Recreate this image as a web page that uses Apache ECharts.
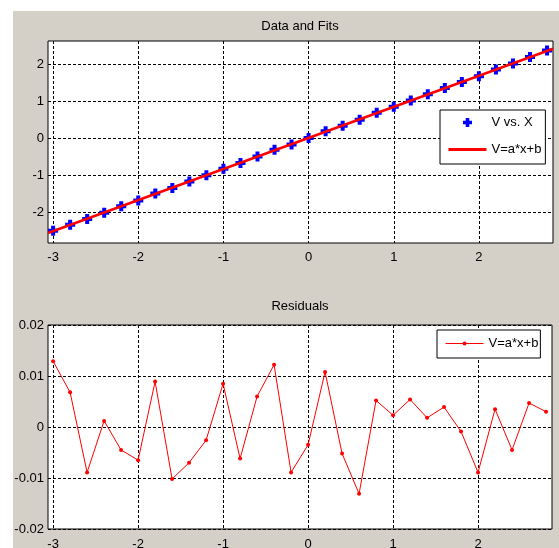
<!DOCTYPE html>
<html>
<head>
<meta charset="utf-8">
<script src="https://cdn.jsdelivr.net/npm/echarts@6/dist/echarts.min.js"></script>
<style>
html,body{margin:0;padding:0;background:#fff;}
#main{width:559px;height:548px;}
</style>
</head>
<body>
<div id="main"></div>
<script>
// x samples
var xVals = [-3, -2.8, -2.6, -2.4, -2.2, -2, -1.8, -1.6, -1.4, -1.2, -1, -0.8, -0.6, -0.4, -0.2,
	0, 0.2, 0.4, 0.6, 0.8, 1, 1.2, 1.4, 1.6, 1.8, 2, 2.2, 2.4, 2.6, 2.8];
// measured V
var vVals = [-2.51, -2.35, -2.19, -2.02, -1.85, -1.69, -1.50, -1.35, -1.18, -1.01, -0.83, -0.68, -0.50, -0.32, -0.18,
	0.00, 0.18, 0.33, 0.49, 0.68, 0.84, 1.01, 1.18, 1.35, 1.51, 1.67, 1.85, 2.01, 2.19, 2.36];
// fitted line end points (drawn across the axis range)
var fitX = [-3.06, 2.87];
var fitV = [-2.57, 2.41];
// residuals
var resVals = [0.0129, 0.0068, -0.0089, 0.0012, -0.0045, -0.0065, 0.0089, -0.0102, -0.0070, -0.0026, 0.0085, -0.0062, 0.0060, 0.0122, -0.0089,
	-0.0035, 0.0108, -0.0052, -0.0131, 0.0052, 0.0023, 0.0054, 0.0018, 0.0039, -0.0009, -0.0089, 0.0035, -0.0045, 0.0047, 0.0030];
var xTicks = [-3, -2, -1, 0, 1, 2];
var vTicks = [-2, -1, 0, 1, 2];
var resTicks = [-0.02, -0.01, 0, 0.01, 0.02];

var font = 'Liberation Sans, Arial, sans-serif';

function pairs(xs, ys) {
	var out = [];
	for (var i = 0; i < xs.length; i++) {
		out.push([xs[i], ys[i]]);
	}
	return out;
}

function xAxisOpt(idx, margin) {
	return {
		type: 'value', gridIndex: idx, min: -3.06, max: 2.87,
		axisLine: {show: false},
		axisTick: {show: false, customValues: xTicks},
		axisLabel: {customValues: xTicks, margin: margin, color: '#000', fontSize: 13, fontFamily: font},
		splitLine: {show: true, lineStyle: {color: '#000', width: 1, type: [3, 2]}}
	};
}

var chart = echarts.init(document.getElementById('main'));
var option = {
	backgroundColor: '#fff',
	animation: false,
	graphic: [{
		type: 'rect', z: -10, silent: true,
		shape: {x: 13, y: 11, width: 546, height: 537},
		style: {fill: '#d4d0c8'}
	}],
	title: [
		{text: 'Data and Fits', left: 300, top: 20, padding: 0, textAlign: 'center',
			textStyle: {fontSize: 13, fontWeight: 'normal', color: '#000', fontFamily: font}},
		{text: 'Residuals', left: 300, top: 300, padding: 0, textAlign: 'center',
			textStyle: {fontSize: 13, fontWeight: 'normal', color: '#000', fontFamily: font}}
	],
	legend: [
		{
			data: ['V vs. X', 'V=a*x+b'],
			orient: 'vertical', left: 440, top: 110, padding: [6, 4, 8, 7],
			itemWidth: 38, itemHeight: 9, itemGap: 14,
			lineStyle: {width: 3},
			backgroundColor: '#fff', borderColor: '#000', borderWidth: 1, borderRadius: 0,
			textStyle: {fontSize: 13, color: '#000', fontFamily: font}
		},
		{
			data: ['resid'],
			formatter: function() { return 'V=a*x+b'; },
			orient: 'vertical', left: 437, top: 330, padding: [7, 2, 8, 8],
			itemWidth: 38, itemHeight: 5,
			lineStyle: {width: 1},
			backgroundColor: '#fff', borderColor: '#000', borderWidth: 1, borderRadius: 0,
			textStyle: {fontSize: 13, color: '#000', fontFamily: font}
		}
	],
	// keep the plot boxes where they are, labels may run off the bottom edge
	grid: [
		{left: 48, top: 41, width: 505, height: 202, outerBoundsMode: 'none', show: true, backgroundColor: '#fff', borderColor: '#000', borderWidth: 1},
		{left: 48, top: 325, width: 504, height: 204, outerBoundsMode: 'none', show: true, backgroundColor: '#fff', borderColor: '#000', borderWidth: 1}
	],
	xAxis: [xAxisOpt(0, 8), xAxisOpt(1, 9)],
	yAxis: [
		{
			type: 'value', gridIndex: 0, min: -2.84, max: 2.62,
			axisLine: {show: false},
			axisTick: {show: false, customValues: vTicks},
			axisLabel: {customValues: vTicks, margin: 4, color: '#000', fontSize: 13, fontFamily: font},
			splitLine: {show: true, lineStyle: {color: '#000', width: 1, type: [3, 2]}}
		},
		{
			type: 'value', gridIndex: 1, min: -0.02, max: 0.02,
			axisLine: {show: false},
			axisTick: {show: false, customValues: resTicks},
			axisLabel: {customValues: resTicks, margin: 4, color: '#000', fontSize: 13, fontFamily: font},
			splitLine: {show: true, lineStyle: {color: '#000', width: 1, type: [3, 2]}}
		}
	],
	series: [
		{
			name: 'V vs. X', type: 'scatter', xAxisIndex: 0, yAxisIndex: 0,
			symbol: 'path://M3,0H7V3H10V7H7V10H3V7H0V3H3Z', symbolSize: 10,
			itemStyle: {color: '#0000ff', opacity: 1},
			data: pairs(xVals, vVals)
		},
		{
			// transparent item colour keeps the legend icon a plain line
			name: 'V=a*x+b', type: 'line', xAxisIndex: 0, yAxisIndex: 0,
			symbol: 'none',
			lineStyle: {color: '#ff0000', width: 2.5},
			itemStyle: {color: 'rgba(0,0,0,0)'},
			data: pairs(fitX, fitV)
		},
		{
			name: 'resid', type: 'line', xAxisIndex: 1, yAxisIndex: 1,
			symbol: 'circle', symbolSize: 4, showSymbol: true,
			lineStyle: {color: '#ff0000', width: 1},
			itemStyle: {color: '#ff0000'},
			data: pairs(xVals, resVals)
		}
	]
};
chart.setOption(option);
</script>
</body>
</html>
